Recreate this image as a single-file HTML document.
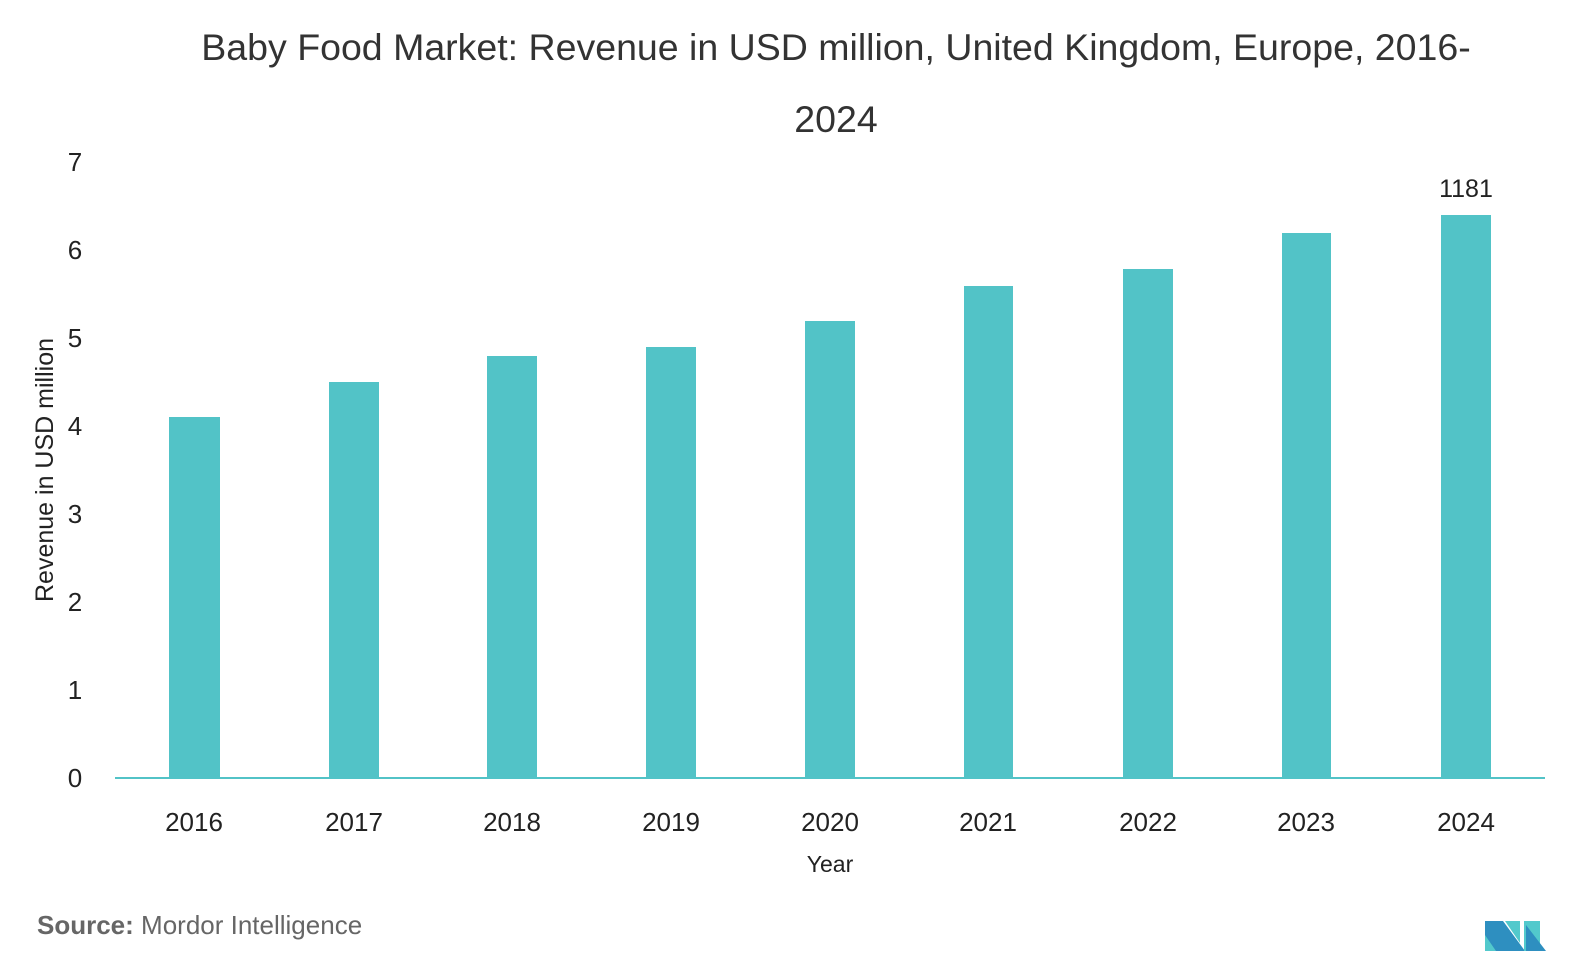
<!DOCTYPE html>
<html><head><meta charset="utf-8"><style>
html,body{margin:0;padding:0;background:#fff;overflow:hidden;}
svg{display:block;font-family:"Liberation Sans",sans-serif;}
</style></head><body>
<svg width="1583" height="970" viewBox="0 0 1583 970">
<text x="836" y="60" text-anchor="middle" font-size="37.5" fill="#333">Baby Food Market: Revenue in USD million, United Kingdom, Europe, 2016-</text>
<text x="836" y="132" text-anchor="middle" font-size="37.5" fill="#333">2024</text>
<g font-size="26" fill="#222" text-anchor="middle">
<text x="75" y="787">0</text><text x="75" y="699">1</text><text x="75" y="611">2</text><text x="75" y="523">3</text><text x="75" y="435">4</text><text x="75" y="347">5</text><text x="75" y="259">6</text><text x="75" y="171">7</text>
</g>
<text transform="translate(53,470) rotate(-90)" text-anchor="middle" font-size="25" fill="#222">Revenue in USD million</text>
<g fill="#52c3c7">
<rect x="169" y="417" width="51" height="361"/>
<rect x="329" y="382" width="50" height="396"/>
<rect x="487" y="356" width="50" height="422"/>
<rect x="646" y="347" width="50" height="431"/>
<rect x="805" y="321" width="50" height="457"/>
<rect x="964" y="286" width="49" height="492"/>
<rect x="1123" y="269" width="50" height="509"/>
<rect x="1282" y="233" width="49" height="545"/>
<rect x="1441" y="215" width="50" height="563"/>
</g>
<line x1="115" y1="778" x2="1545" y2="778" stroke="#52c3c7" stroke-width="2"/>
<text x="1466" y="197" text-anchor="middle" font-size="25" fill="#222">1181</text>
<g font-size="26" fill="#222" text-anchor="middle">
<text x="194" y="831">2016</text><text x="354" y="831">2017</text><text x="512" y="831">2018</text><text x="671" y="831">2019</text><text x="830" y="831">2020</text><text x="988" y="831">2021</text><text x="1148" y="831">2022</text><text x="1306" y="831">2023</text><text x="1466" y="831">2024</text>
</g>
<text x="830" y="872" text-anchor="middle" font-size="23" fill="#222">Year</text>
<text x="37" y="934" font-size="26" fill="#666"><tspan font-weight="bold">Source:</tspan> Mordor Intelligence</text>
<g>
<polygon points="1485,921 1503,921 1525,951 1485,951" fill="#2e8fc0"/>
<polygon points="1485,935 1496,951 1485,951" fill="#52c9cc"/>
<polygon points="1505,921 1520,921 1520,943" fill="#52c9cc"/>
<polygon points="1524,921 1540,921 1540,951 1524,951" fill="#52c9cc"/>
<polygon points="1526,925 1546,951 1526,951" fill="#2e8fc0"/>
</g>
</svg>
</body></html>
